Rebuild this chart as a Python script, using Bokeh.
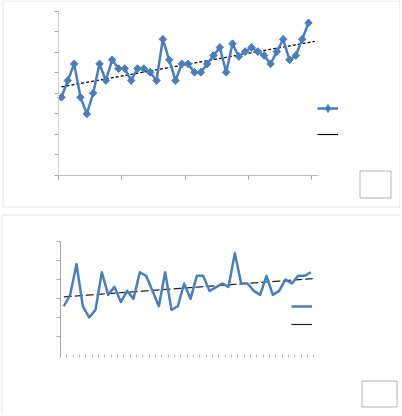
import numpy as np
from bokeh.plotting import figure
from bokeh.models import Legend, LegendItem, FixedTicker, BoxAnnotation, Range1d
from bokeh.layouts import column
from bokeh.embed import file_html
from bokeh.resources import INLINE
from bokeh.core.properties import value

# ---------------- data ----------------
top_index = list(range(1, 41))
top_values = [3.80, 4.62, 5.43, 3.80, 2.99, 4.00, 5.43, 4.62, 5.63, 5.20,
              5.20, 4.62, 5.20, 5.20, 5.02, 4.62, 6.63, 5.63, 4.62, 5.43,
              5.43, 5.02, 5.02, 5.43, 5.84, 6.23, 5.02, 6.41, 5.79, 6.03,
              6.23, 6.03, 5.84, 5.43, 6.03, 6.63, 5.63, 5.84, 6.63, 7.43]
top_y_ticks = [0, 1, 2, 3, 4, 5, 6, 7, 8]
top_x_ticks = [0.5, 10.5, 20.5, 30.5, 40.5]

bottom_index = list(range(1, 41))
bottom_values = [2.61, 3.21, 4.82, 2.61, 2.02, 2.42, 4.40, 3.21, 3.63, 2.83,
                 3.42, 3.00, 4.40, 4.21, 3.42, 2.61, 4.40, 2.42, 2.61, 3.81,
                 3.00, 4.21, 4.21, 3.42, 3.60, 3.81, 3.63, 5.40, 3.81, 3.81,
                 3.42, 3.21, 4.21, 3.21, 3.42, 4.02, 3.81, 4.21, 4.21, 4.40]
bottom_y_ticks = [1, 2, 3, 4, 5, 6]
bottom_x_ticks = [i + 0.5 for i in range(0, 41)]

BLUE = "#4a7ebb"
W = 400
H1 = 208
H2 = 206

# linear trends (computed from the series)
top_coef = np.polyfit(top_index, top_values, 1)
top_trend_x = [top_index[0], top_index[-1] + 1.0]
top_trend_y = list(np.polyval(top_coef, top_trend_x))

bot_coef = np.polyfit(bottom_index, bottom_values, 1)
bot_trend_x = [bottom_index[0], bottom_index[-1] + 0.3]
bot_trend_y = list(np.polyval(bot_coef, bot_trend_x))


def pixel_range(v_a, p_a, v_b, p_b, total):
    """Range whose values v_a/v_b land on pixels p_a/p_b of a span of `total` px."""
    scale = (p_b - p_a) / (v_b - v_a)
    s = v_a + (0 - p_a) / scale
    e = v_a + (total - p_a) / scale
    return Range1d(min(s, e), max(s, e))


def base_figure(h, xr, yr):
    f = figure(width=W, height=h, output_backend="svg", toolbar_location=None,
               title=None, x_range=xr, y_range=yr,
               min_border=0, min_border_left=0, min_border_right=0,
               min_border_top=0, min_border_bottom=0,
               background_fill_color="white", border_fill_color="white")
    f.grid.visible = False
    f.outline_line_color = None
    for ax in (f.xaxis[0], f.yaxis[0]):
        ax.major_label_text_color = None
        ax.major_label_text_font_size = "1px"
        ax.major_label_standoff = 0
        ax.minor_tick_line_color = None
        ax.major_tick_in = 0
        ax.major_tick_out = 4
    return f


def box(left, right, top, bottom, color):
    return BoxAnnotation(left=left, right=right, top=top, bottom=bottom,
                         left_units="canvas", right_units="canvas",
                         top_units="canvas", bottom_units="canvas",
                         fill_alpha=0, line_color=color, line_width=1)


# ---------------- top chart ----------------
f1 = base_figure(H1,
                 pixel_range(1, 61.0, 40, 308.0, W),
                 pixel_range(0, H1 - 174.7, 8, H1 - 10.7, H1))
f1.yaxis.fixed_location = 0.5
f1.yaxis.bounds = (0, 8)
f1.yaxis.ticker = FixedTicker(ticks=top_y_ticks)
f1.yaxis.axis_line_color = "#d0d0d0"
f1.yaxis.major_tick_line_color = "#a6a6a6"
f1.xaxis.fixed_location = 0
f1.xaxis.bounds = (0.0, 41.5)
f1.xaxis.ticker = FixedTicker(ticks=top_x_ticks)
f1.xaxis.axis_line_color = "#bfbfbf"
f1.xaxis.major_tick_line_color = "#a6a6a6"

r_trend1 = f1.line(top_trend_x, top_trend_y, line_color="black", line_width=1.2)
f1.line(top_trend_x, top_trend_y, line_color="white", line_width=2.4,
        line_dash="2 3", line_dash_offset=2)
r_line = f1.line(top_index, top_values, line_color=BLUE, line_width=2.5,
                 line_join="round")
r_dia = f1.scatter(top_index, top_values, marker="diamond", size=7.5,
                   fill_color=BLUE, line_color=BLUE)
f1.scatter(top_index, top_values, marker="square", size=5.3,
           angle=np.pi / 4, fill_color=BLUE, line_color=BLUE)

leg1 = Legend(items=[LegendItem(label=value(" "), renderers=[r_line, r_dia]),
                     LegendItem(label=value(" "), renderers=[r_trend1])],
              location=(317, 64), padding=0, margin=0, spacing=6,
              glyph_width=21, glyph_height=20, label_height=20,
              label_text_font_size="6px", label_text_color=None,
              border_line_color=None, background_fill_alpha=0)
f1.add_layout(leg1, "center")

f1.add_layout(box(2.5, 399.5, 0.5, 206.5, "#a6a6a6"))
f1.add_layout(box(359.5, 390.5, 170.5, 197.5, "black"))

# ---------------- bottom chart ----------------
f2 = base_figure(H2,
                 pixel_range(1, 63.33, 40, 310.33, W),
                 pixel_range(0, H2 - (355.4 - 208), 6, H2 - (241.3 - 208), H2))
f2.yaxis.fixed_location = 0.5
f2.yaxis.bounds = (-0.1, 6)
f2.yaxis.ticker = FixedTicker(ticks=bottom_y_ticks)
f2.yaxis.axis_line_color = "#a6a6a6"
f2.yaxis.major_tick_line_color = "#a6a6a6"
f2.xaxis.fixed_location = -0.1
f2.xaxis.bounds = (0.5, 40.5)
f2.xaxis.ticker = FixedTicker(ticks=bottom_x_ticks)
f2.xaxis.axis_line_color = None
f2.xaxis.major_tick_in = 3
f2.xaxis.major_tick_out = 0
f2.xaxis.major_tick_line_color = "#b5b5b5"

r_trend2 = f2.line(bot_trend_x, bot_trend_y, line_color="#222222", line_width=1.2)
f2.line(bot_trend_x, bot_trend_y, line_color="white", line_width=2.4,
        line_dash="3 8", line_dash_offset=3)
r_line2 = f2.line(bottom_index, bottom_values, line_color=BLUE, line_width=2.5,
                  line_join="round")

leg2 = Legend(items=[LegendItem(label=value(" "), renderers=[r_line2]),
                     LegendItem(label=value(" "), renderers=[r_trend2])],
              location=(291, 82), padding=0, margin=0, spacing=2,
              glyph_width=21, glyph_height=16, label_height=16,
              label_text_font_size="6px", label_text_color=None,
              border_line_color=None, background_fill_alpha=0)
f2.add_layout(leg2, "center")

f2.add_layout(box(1.5, 1000, 6.5, 1000, "#a6a6a6"))
f2.add_layout(box(361.5, 396.5, 172.5, 198.5, "black"))

p = column(f1, f2, spacing=0)

open("out.html", "w").write(file_html(p, INLINE))
